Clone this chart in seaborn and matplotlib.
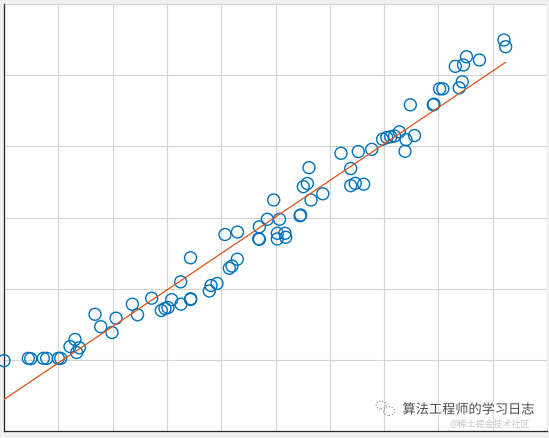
import numpy as np
import pandas as pd
import matplotlib
matplotlib.use("Agg")
import matplotlib.pyplot as plt
import matplotlib.patheffects as pe
import seaborn as sns

# scatter data
x_vals = [0.0, 4.48, 4.92, 7.24, 7.86, 10.0, 10.44, 12.15, 13.08, 13.87,
          13.39, 16.76, 17.81, 19.89, 20.63, 23.63, 24.59, 27.2, 28.97, 29.65,
          30.2, 30.88, 32.6, 32.54, 34.35, 34.38, 34.35, 37.81, 38.12, 39.23,
          40.7, 43.0, 41.49, 41.99, 42.97, 46.9, 47.02, 47.02, 48.49, 49.67,
          50.74, 50.33, 51.75, 50.33, 51.88, 54.51, 54.64, 55.12, 55.86, 56.17,
          56.54, 58.71, 62.06, 63.85, 63.85, 64.68, 66.24, 65.25, 67.72, 69.72,
          70.5, 71.23, 71.92, 72.8, 74.03, 73.85, 75.6, 74.83, 79.06, 79.19,
          80.22, 80.81, 83.83, 84.4, 83.11, 84.62, 85.17, 87.57, 92.08, 92.39]
y_vals = [9.88, 10.21, 10.16, 10.21, 10.21, 10.21, 10.21, 11.87, 12.86, 11.69,
          11.03, 16.4, 14.66, 13.84, 15.85, 17.82, 16.33, 18.66, 16.93, 17.21,
          17.35, 18.45, 17.82, 20.96, 18.48, 18.58, 24.34, 19.67, 20.44, 20.73,
          27.61, 27.96, 22.87, 23.18, 24.14, 27.01, 26.94, 28.69, 29.75, 32.46,
          29.75, 27.78, 27.78, 26.98, 27.22, 30.25, 30.35, 34.33, 34.78, 37.0,
          32.46, 33.33, 39.02, 36.88, 34.47, 34.8, 34.68, 39.27, 39.58, 40.99,
          41.24, 41.35, 41.45, 42.04, 40.94, 39.3, 41.52, 45.83, 45.83, 45.92,
          48.08, 48.08, 48.22, 49.07, 51.24, 51.43, 52.59, 52.13, 54.94, 54.0]

# fitted line end points
line_x = [0.0, 92.39]
line_y = [4.43, 51.81]

watermark = "算法工程师的学习日志"
watermark_sub = "@稀土掘金技术社区"

df = pd.DataFrame({"x": x_vals, "y": y_vals})
fit = pd.DataFrame({"x": line_x, "y": line_y})

sns.set_style("white")
plt.rcParams["font.family"] = ["Noto Sans CJK SC", "DejaVu Sans"]

fig = plt.figure(figsize=(5.49, 4.38), dpi=100, facecolor="#f0f0f0")
ax = fig.add_axes([4 / 549, 7 / 438, 543 / 549, 427 / 438])
ax.set_facecolor("white")

sns.scatterplot(ax=ax, data=df, x="x", y="y", s=74, marker="o",
                facecolors="none", edgecolor="#0072BD", linewidth=1.0,
                clip_on=False, zorder=3)
sns.lineplot(ax=ax, data=fit, x="x", y="y", color="#D95319", linewidth=0.9,
             zorder=4)

ax.set_xlim(0, 100)
ax.set_ylim(0, 60)
ax.set_xticks(np.arange(0, 101, 10))
ax.set_yticks(np.arange(0, 61, 10))
ax.grid(True, color="#d4d4d4", linewidth=0.8)
ax.set_axisbelow(True)
ax.tick_params(direction="in", length=3.5, width=0.9, color="#262626",
               labelleft=False, labelbottom=False)
ax.set_xlabel("")
ax.set_ylabel("")
sns.despine(ax=ax)
for side in ["left", "bottom"]:
    ax.spines[side].set_color("#262626")
    ax.spines[side].set_linewidth(0.9)

# watermark
fig.text(535 / 549, (438 - 410) / 438, watermark, ha="right", va="center",
         fontsize=9.5, color="#4d4d4d",
         path_effects=[pe.withStroke(linewidth=2, foreground="white")])
fig.text(530 / 549, (438 - 424) / 438, watermark_sub, ha="right", va="center",
         fontsize=6.5, color="#bbbbbb", alpha=0.8)
fig.patches.append(matplotlib.patches.Circle((381 / 549, (438 - 405) / 438), 0.009,
                   transform=fig.transFigure, fill=False, ls=":", ec="#888888", lw=0.8))
fig.patches.append(matplotlib.patches.Circle((389 / 549, (438 - 411) / 438), 0.01,
                   transform=fig.transFigure, fill=False, ls=":", ec="#888888", lw=0.8))

fig.savefig("out.png", dpi=100, facecolor=fig.get_facecolor())
